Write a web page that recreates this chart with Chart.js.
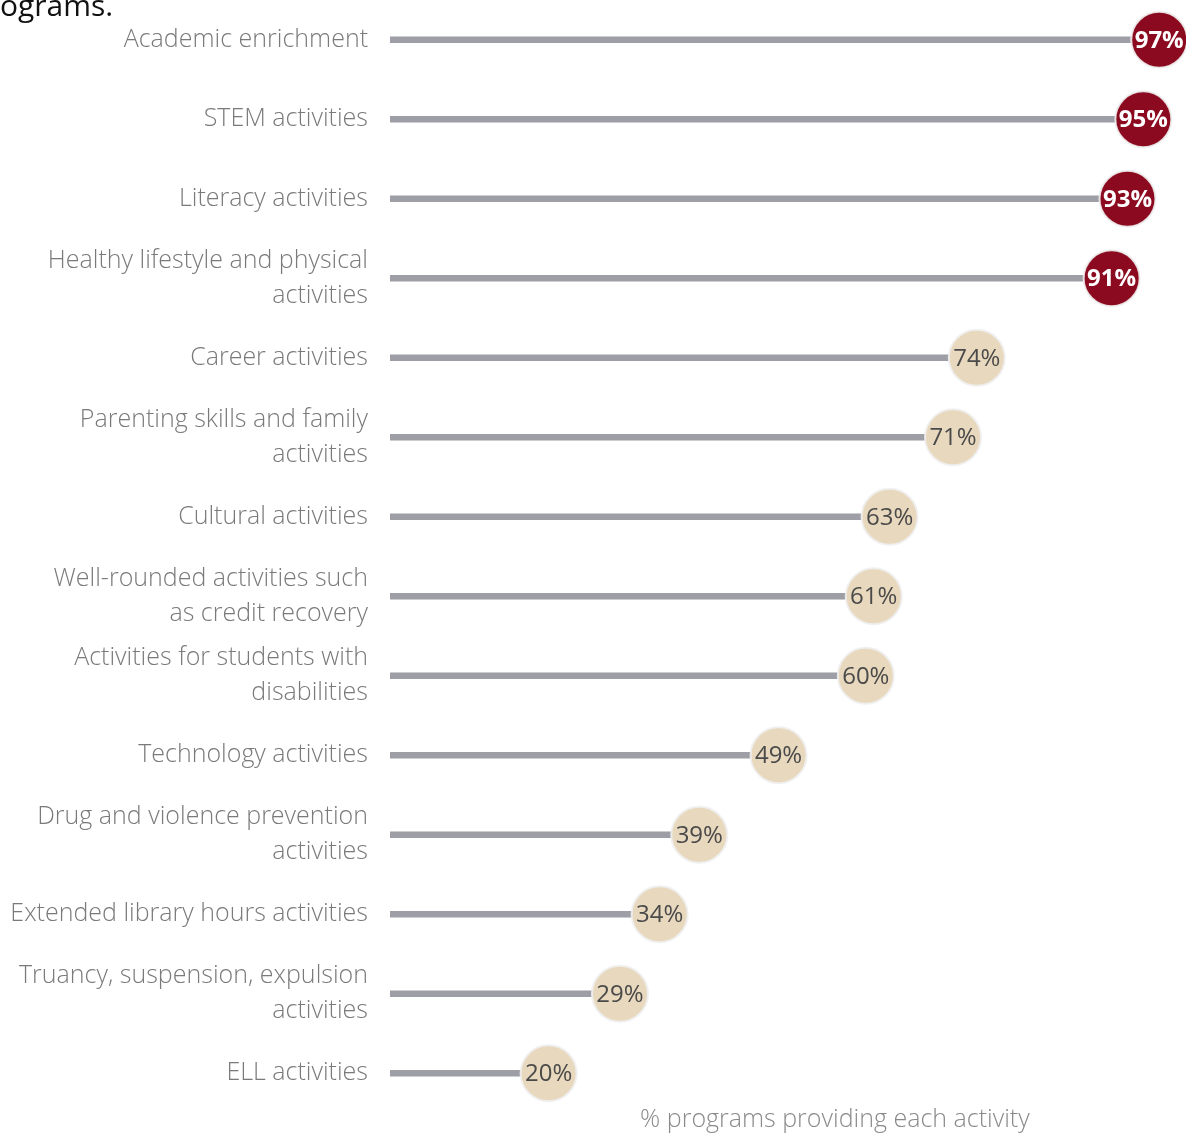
<!DOCTYPE html>
<html>
<head>
<meta charset="utf-8">
<script src="https://cdn.jsdelivr.net/npm/chart.js@4"></script>
<style>
    html, body { margin: 0; padding: 0; background: #fff; overflow: hidden; }
    #wrap { position: relative; width: 1186px; height: 1135px; }
    #lead {
        position: absolute; left: 0; top: -16px;
        font: 400 30px "Open Sans", sans-serif; color: #111;
    }
    canvas { position: absolute; left: 0; top: 0; }
</style>
</head>
<body>
<div id="wrap">
    <canvas id="activityChart" width="1186" height="1135"></canvas>
    <div id="lead">ograms.</div>
</div>
<script>
// Activity names (multi-line where the original wraps)
const categories = [
    "Academic enrichment",
    "STEM activities",
    "Literacy activities",
    ["Healthy lifestyle and physical", "activities"],
    "Career activities",
    ["Parenting skills and family", "activities"],
    "Cultural activities",
    ["Well-rounded activities such", "as credit recovery"],
    ["Activities for students with", "disabilities"],
    "Technology activities",
    ["Drug and violence prevention", "activities"],
    "Extended library hours activities",
    ["Truancy, suspension, expulsion", "activities"],
    "ELL activities"
];

// % of programs providing each activity
const percentValues = [97, 95, 93, 91, 74, 71, 63, 61, 60, 49, 39, 34, 29, 20];

const axisTitle = "% programs providing each activity";

const RED = "#8c0a1f";
const BEIGE = "#e8d8bd";
const FONT = "'Open Sans', sans-serif";

// top four are highlighted in red
const dotColors = percentValues.map(v => v >= 90 ? RED : BEIGE);

// draws the value text inside each dot, and the axis title
const dotLabels = {
    id: "dotLabels",
    afterDatasetsDraw(chart) {
        const ctx = chart.ctx;
        const meta = chart.getDatasetMeta(1);
        ctx.save();
        ctx.textAlign = "center";
        ctx.textBaseline = "middle";
        meta.data.forEach((pt, i) => {
            const v = percentValues[i];
            if (v >= 90) {
                ctx.fillStyle = "#ffffff";
                ctx.font = "700 24px " + FONT;
            } else {
                ctx.fillStyle = "#4a4a4a";
                ctx.font = "400 24px " + FONT;
            }
            ctx.fillText(v + "%", pt.x, pt.y + 1);
        });

        // axis title sits right of the plot centre in the original
        const area = chart.chartArea;
        ctx.fillStyle = "#8a8a8a";
        ctx.font = "300 25px " + FONT;
        ctx.textBaseline = "alphabetic";
        ctx.fillText(axisTitle, area.left + (area.right - area.left) * 0.561, area.bottom + 14);
        ctx.restore();
    }
};

const ctx = document.getElementById("activityChart").getContext("2d");

new Chart(ctx, {
    type: "bar",
    data: {
        labels: categories,
        datasets: [
            {
                // the stick of each lollipop
                type: "bar",
                data: percentValues,
                backgroundColor: "#9e9ea6",
                barThickness: 6,
                borderSkipped: false,
                order: 2
            },
            {
                // the dot at the end
                type: "line",
                data: percentValues,
                showLine: false,
                clip: false,
                pointRadius: 28,
                pointHoverRadius: 28,
                pointBackgroundColor: dotColors,
                pointBorderColor: "rgba(240,240,240,0.9)",
                pointBorderWidth: 2,
                order: 1
            }
        ]
    },
    options: {
        indexAxis: "y",
        responsive: false,
        animation: false,
        events: [],
        layout: { autoPadding: false, padding: { top: 0, right: 3, left: 0, bottom: 0 } },
        plugins: {
            legend: { display: false },
            tooltip: { enabled: false }
        },
        scales: {
            x: {
                min: 0,
                max: 100,
                grid: { display: false },
                border: { display: false },
                ticks: { display: false },
                afterFit: (scale) => { scale.height = 22; }
            },
            y: {
                grid: { display: false },
                border: { display: false },
                ticks: {
                    color: "#7a7a7a",
                    padding: 14,
                    font: { family: FONT, size: 25, weight: "300", lineHeight: 1.4 }
                },
                afterFit: (scale) => {
                    scale.width = 390;
                    // labels may spill past the plot edges, as in the original
                    scale.paddingTop = 0;
                    scale.paddingBottom = 0;
                }
            }
        }
    },
    plugins: [dotLabels]
});
</script>
</body>
</html>
